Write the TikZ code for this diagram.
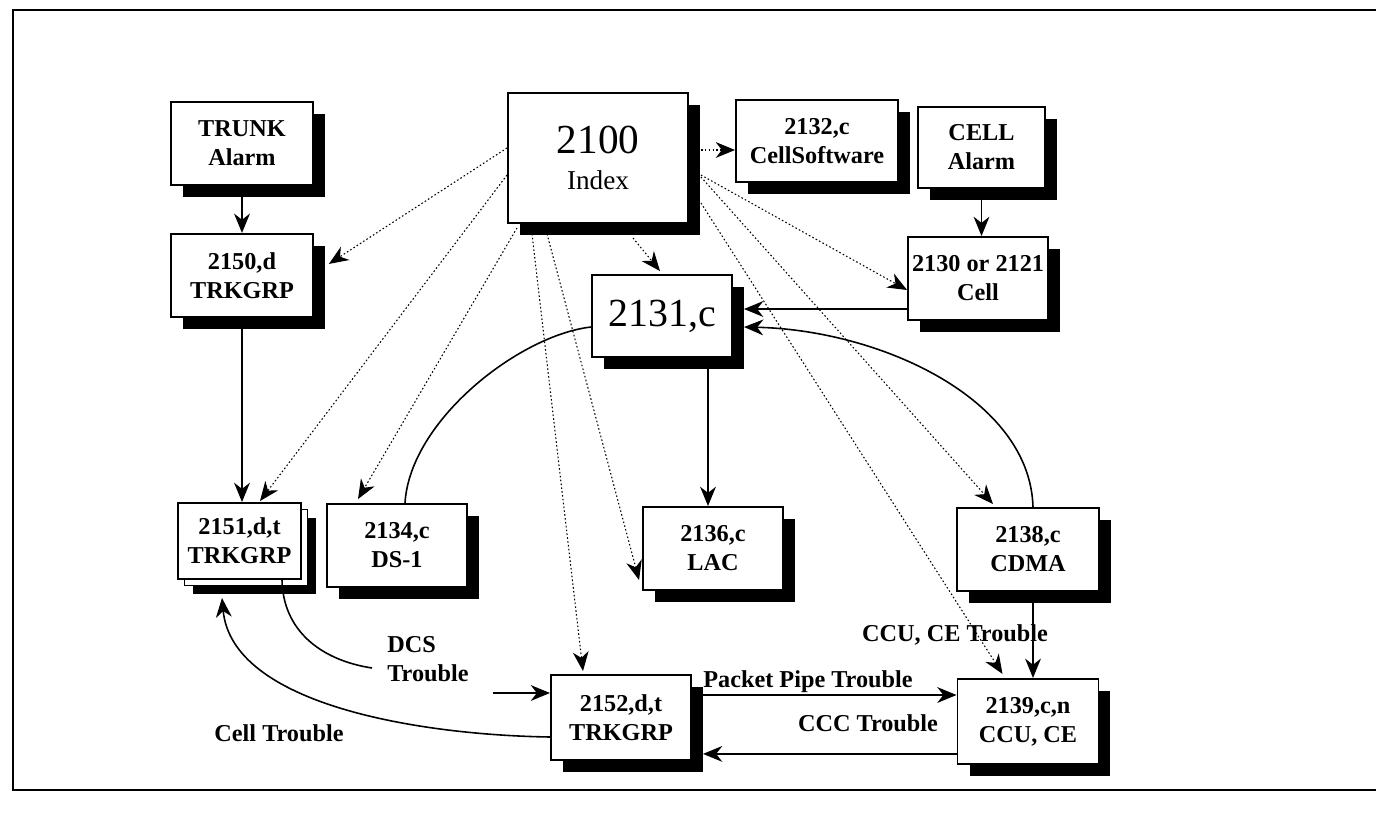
\documentclass[tikz,border=0pt]{standalone}
\usepackage{fontspec}
\setmainfont{Liberation Serif}
\usetikzlibrary{arrows.meta,shadows,positioning}

\begin{document}
\begin{tikzpicture}[x=0.02cm, y=-0.02cm,
    boxshadow/.style={drop shadow={shadow xshift=0.24cm, shadow yshift=-0.24cm, opacity=1, fill=black}}]
    \tikzstyle{plain}=[rectangle, draw=black, fill=white, line width=1.1pt, align=center, inner sep=0pt,
                       minimum width=2.8cm, minimum height=1.66cm, font=\fontsize{13.8}{16.5}\selectfont\bfseries]
    \tikzstyle{box}=[plain, boxshadow]
    \tikzstyle{stack}=[plain, drop shadow={shadow xshift=0.3cm, shadow yshift=-0.3cm, opacity=1, fill=black},
                       copy shadow={shadow xshift=0.13cm, shadow yshift=-0.13cm, draw=black, fill=white, line width=1.1pt}]
    \tikzstyle{connect}=[-{Stealth[length=11pt, width=9pt, inset=3.5pt]}, line width=0.9pt]
    \tikzstyle{link}=[connect, line width=0.6pt, dash pattern=on 0.9pt off 1.3pt]
    \tikzstyle{trouble}=[inner sep=0pt, align=center, font=\fontsize{13.8}{16.5}\selectfont\bfseries]

    \useasboundingbox (0,0) rectangle (1376,832);
    \draw[line width=1.2pt] (1376,10) -- (13,10) -- (13,790) -- (1376,790);

    \node[box, minimum width=2.84cm] (trunk) at (242,143.5) {TRUNK\\Alarm};
    \node[box, minimum width=2.84cm] (f2150) [below=0.94cm of trunk] {2150,d\\TRKGRP};
    \node[box, minimum width=3.6cm, minimum height=2.6cm, font=\fontsize{15.5}{20.4}\selectfont] (index) at (598,158) {{\fontsize{23.5}{20.4}\selectfont 2100}\\Index};
    \node[box, minimum width=3.24cm, minimum height=1.64cm] (f2132) at (817,141) {2132,c\\CellSoftware};
    \node[box, minimum width=2.54cm, minimum height=1.62cm] (cell) at (981.5,147.5) {CELL\\Alarm};
    \node[box] (f2130) at (978,278.5) {2130 or 2121\\Cell};
    \node[box, minimum height=1.64cm, font=\fontsize{22.7}{24}\selectfont] (f2131) at (662,316) {2131,c};
    \node[stack, minimum width=2.46cm, minimum height=1.52cm] (f2151) at (239.5,541) {2151,d,t\\TRKGRP};
    \node[box] (f2134) at (397,545.5) {2134,c\\DS-1};
    \node[box] (f2136) at (713,548.5) {2136,c\\LAC};
    \node[box, minimum width=2.84cm] (f2138) at (1028,549.5) {2138,c\\CDMA};
    \node[box, minimum width=2.82cm, minimum height=1.7cm] (f2139) [below=1.72cm of f2138] {2139,c,n\\CCU, CE};
    \node[box, minimum height=1.7cm] (f2152) at (621,717.5) {2152,d,t\\TRKGRP};

    % trouble labels
    \node[trouble, align=left, anchor=west] (dcs) at (387,659) {DCS\\Trouble};
    \node[trouble] (celltr) at (279,733) {Cell Trouble};
    \node[trouble] (packet) at (808,682) {Packet Pipe Trouble};
    \node[trouble] (ccc) at (868,723) {CCC Trouble};
    \node[trouble] (ccuce) at (955,635) {CCU, CE Trouble};
    \coordinate (dcsA) at (372,668);
    \coordinate (dcsB) at (493,693);
    \coordinate (pipe) at ([shift={(11,-22.5)}]f2152.east);
    \coordinate (ccct) at ([shift={(0,32.5)}]f2139.west);

    % index references
    \path
      ([shift={(12,-8)}]index.east) edge [link] ([shift={(0,9)}]f2132.west)
      ([shift={(0,-10)}]index.west) edge [link] ([shift={(15,-11.5)}]f2150.east)
      ([shift={(0,17)}]index.west) edge [link] ([shift={(20.5,-1)}]f2151.north)
      ([shift={(-81,4)}]index.south) edge [link] ([shift={(-39,-4)}]f2134.north)
      ([shift={(-66,10)}]index.south) edge [link] ([shift={(-38,-3)}]f2152.north)
      ([shift={(-51,10)}]index.south) edge [link] ([shift={(-3,31.5)}]f2136.west)
      ([shift={(35,14)}]index.south) edge [link] ([shift={(-2,-3)}]f2131.north)
      ([shift={(12,17)}]index.east) edge [link] ([shift={(0,11.5)}]f2130.west)
      ([shift={(12,19)}]index.east) edge [link] ([shift={(-35,-3)}]f2138.north)
      ([shift={(12,45)}]index.east) edge [link] ([shift={(-25.5,-4)}]f2139.north);

    % alarm flow
    \path
      (trunk) edge [connect] (f2150)
      (cell.south) edge [connect] (cell.south |- f2130.north)
      (f2150.south) edge [connect] (f2150.south |- f2151.north)
      ([shift={(0,30.5)}]f2130.west) edge [connect] ([shift={(11,-7)}]f2131.east)
      ([shift={(46,0)}]f2131.south) edge [connect] ([shift={(-5,0)}]f2136.north)
      ([shift={(5,0)}]f2138.south) edge [connect] ([shift={(5,0)}]f2139.north)
      (pipe) edge [connect] (pipe -| f2139.west)
      (ccct) edge [connect] ([xshift=0.22cm]ccct -| f2152.east);
    \draw[connect] ([shift={(5,0)}]f2138.north) .. controls +(-3,-108) and +(137,3) .. ([shift={(11,11)}]f2131.east);
    \draw[line width=0.9pt] ([shift={(0,11)}]f2131.west) .. controls (520,335) and (410,420) .. ([shift={(8,0)}]f2134.north);
    \draw[line width=0.9pt] ([shift={(42.5,0)}]f2151.south) .. controls (283,630) and (320,660) .. (dcsA);
    \draw[connect] (dcsB) -- (dcsB -| f2152.west);
    \draw[connect] ([shift={(0,19.5)}]f2152.west) .. controls (420,735) and (232,705) .. ([shift={(-17.5,18)}]f2151.south);
\end{tikzpicture}
\end{document}
